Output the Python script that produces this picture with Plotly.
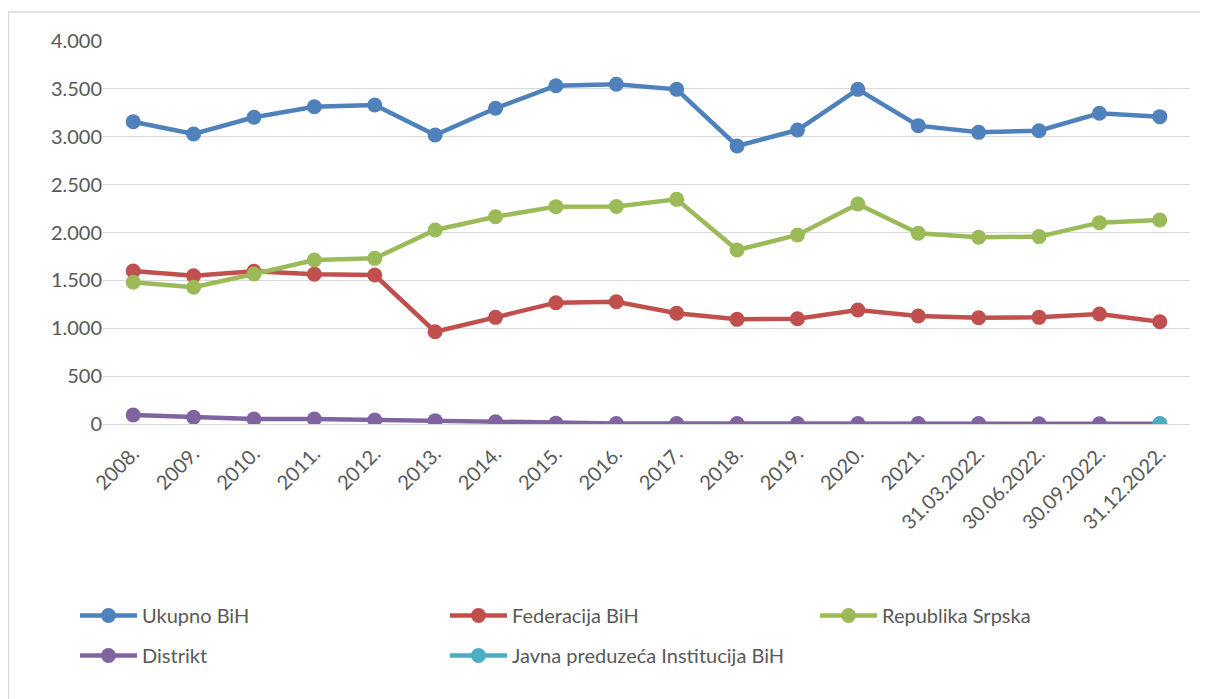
import plotly.graph_objects as go

categories = ["2008.", "2009.", "2010.", "2011.", "2012.", "2013.", "2014.", "2015.",
              "2016.", "2017.", "2018.", "2019.", "2020.", "2021.",
              "31.03.2022.", "30.06.2022.", "30.09.2022.", "31.12.2022."]

ukupno = [3157, 3029, 3203, 3314, 3332, 3018, 3297, 3533, 3548, 3495,
          2904, 3070, 3495, 3116, 3046, 3063, 3245, 3210]
federacija = [1598, 1549, 1595, 1565, 1556, 964, 1114, 1267, 1277, 1156,
              1093, 1100, 1191, 1128, 1110, 1114, 1149, 1068]
republika = [1480, 1428, 1567, 1713, 1730, 2026, 2165, 2270, 2272, 2346,
             1817, 1974, 2298, 1992, 1950, 1957, 2103, 2131]
distrikt = [94, 70, 52, 52, 42, 35, 24, 9, 6, 5, 5, 4, 4, 4, 4, 3, 3, 2]
javna = [None] * 17 + [2]

y_ticks = [0, 500, 1000, 1500, 2000, 2500, 3000, 3500, 4000]
y_tick_labels = ["0", "500", "1.000", "1.500", "2.000", "2.500", "3.000", "3.500", "4.000"]

series_names = ["Ukupno BiH", "Federacija BiH", "Republika Srpska", "Distrikt",
                "Javna preduzeća Institucija BiH"]
series_values = [ukupno, federacija, republika, distrikt, javna]
series_colors = ["#4F81BD", "#C0504D", "#9BBB59", "#8064A2", "#4BACC6"]

FONT = "Lato"
W, H = 1200, 691
L, R, T, B = 95, 18, 33, 275
PW, PH = W - L - R, H - T - B

# legend slots (column x, row top) in figure pixels
legend_cols = [67, 437, 807, 67, 437]
legend_rows = [588, 588, 588, 628, 628]

fig = go.Figure()
legend_layout = {}
for i, (name, vals, col) in enumerate(zip(series_names, series_values, series_colors)):
    key = "legend" if i == 0 else f"legend{i + 1}"
    fig.add_trace(go.Scatter(
        x=categories, y=vals, name=name, mode="lines+markers",
        line=dict(color=col, width=4.5),
        marker=dict(color=col, size=15),
        legend=key,
    ))
    legend_layout[key] = dict(
        orientation="h", xref="container", yref="container",
        x=legend_cols[i] / W, y=1 - legend_rows[i] / H,
        xanchor="left", yanchor="top", itemwidth=57,
        font=dict(family=FONT, size=20, color="#595959"),
        bgcolor="rgba(0,0,0,0)",
    )

fig.update_layout(
    width=W, height=H,
    margin=dict(l=L, r=R, t=T, b=B),
    paper_bgcolor="white", plot_bgcolor="white",
    font=dict(family=FONT, size=20, color="#595959"),
    showlegend=True,
    xaxis=dict(
        type="category", tickangle=-45, showgrid=False,
        showline=True, linecolor="#D9D9D9", linewidth=1.3,
        ticks="", ticklabelstandoff=9,
        tickfont=dict(family=FONT, size=20, color="#595959"),
        range=[-0.5, 17.5],
    ),
    yaxis=dict(
        range=[0, 4000], tickvals=y_ticks, ticktext=y_tick_labels,
        showgrid=True, gridcolor="#D9D9D9", gridwidth=1.3,
        zeroline=False, showline=False, ticks="", ticklen=0,
        tickfont=dict(family=FONT, size=20, color="#595959"),
    ),
    shapes=[dict(
        type="rect", xref="paper", yref="paper",
        x0=(0.5 - L) / PW, x1=(W + 10 - L) / PW,
        y0=(PH + T - (H + 10)) / PH, y1=(PH + T - 4) / PH,
        line=dict(color="#D9D9D9", width=1.3), fillcolor="rgba(0,0,0,0)",
        layer="below",
    )],
    **legend_layout,
)

fig.write_html("out.html")
